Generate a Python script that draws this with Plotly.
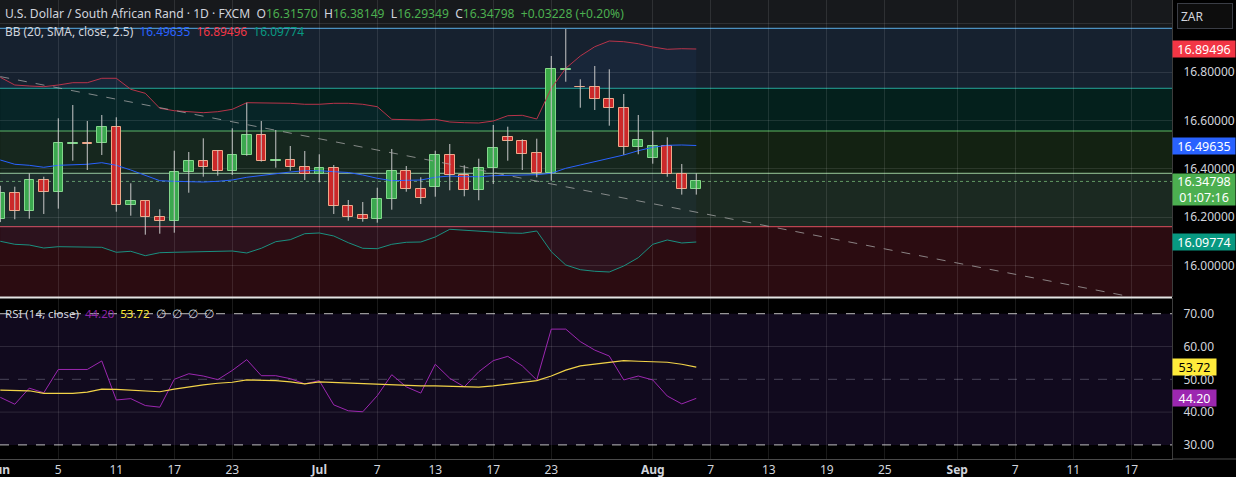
import plotly.graph_objects as go

# ---------------- data ----------------
opens = [16.1916, 16.2990, 16.2271, 16.3527, 16.3031, 16.5045, 16.5085, 16.5055, 16.5716, 16.2519,
         16.2659, 16.1998, 16.1833, 16.3857, 16.4324, 16.4724, 16.3898, 16.4559, 16.5385, 16.4340,
         16.4365, 16.4088, 16.3774, 16.4022, 16.2465, 16.2093, 16.1916, 16.2742, 16.3911, 16.3155,
         16.3262, 16.4559, 16.3733, 16.3114, 16.4022, 16.5303, 16.5150, 16.4642, 16.3841, 16.8090,
         16.7400, 16.7368, 16.6872, 16.6501, 16.4890, 16.4435, 16.4931, 16.3774, 16.31570]
highs = [16.3300, 16.3262, 16.3816, 16.3675, 16.6088, 16.6637, 16.5976, 16.6224, 16.6129, 16.3403,
         16.2680, 16.2329, 16.4749, 16.4696, 16.5261, 16.4778, 16.5675, 16.6732, 16.5976, 16.5604,
         16.4943, 16.4737, 16.4601, 16.4159, 16.2713, 16.2630, 16.3221, 16.4820, 16.4117, 16.3651,
         16.4749, 16.5026, 16.4146, 16.4419, 16.5811, 16.5741, 16.5220, 16.5245, 16.8661, 16.9776,
         16.7698, 16.8248, 16.8112, 16.7091, 16.6224, 16.5563, 16.5303, 16.4200, 16.38149]
lows = [16.1800, 16.1916, 16.1941, 16.2135, 16.2354, 16.4336, 16.3952, 16.4572, 16.2230, 16.2064,
        16.1280, 16.1321, 16.1362, 16.3014, 16.3675, 16.3717, 16.3746, 16.4540, 16.4300, 16.4047,
        16.3923, 16.3539, 16.3444, 16.2135, 16.1858, 16.1817, 16.1775, 16.2312, 16.3056, 16.2548,
        16.2849, 16.3114, 16.2866, 16.2701, 16.3374, 16.4336, 16.3952, 16.3651, 16.3510, 16.7599,
        16.6525, 16.6430, 16.5782, 16.4584, 16.4601, 16.4212, 16.3675, 16.2935, 16.29349]
closes = [16.2990, 16.2271, 16.3539, 16.3031, 16.5055, 16.5085, 16.5045, 16.5716, 16.2519, 16.2659,
          16.1998, 16.1833, 16.3857, 16.4324, 16.4088, 16.3898, 16.4559, 16.5385, 16.4311, 16.4380,
          16.4088, 16.3774, 16.4022, 16.2465, 16.1998, 16.1916, 16.2754, 16.3911, 16.3155, 16.2796,
          16.4559, 16.3733, 16.3114, 16.4022, 16.4848, 16.5150, 16.4625, 16.3841, 16.8112, 16.8130,
          16.7360, 16.6872, 16.6501, 16.4890, 16.5179, 16.4931, 16.3774, 16.3155, 16.34798]

bb_upper = [16.7781, 16.7463, 16.7422, 16.7393, 16.7463, 16.7558, 16.7558, 16.7740, 16.7740, 16.7285,
            16.7120, 16.6501, 16.6401, 16.6360, 16.6319, 16.6360, 16.6459, 16.6732, 16.6732, 16.6732,
            16.6707, 16.6666, 16.6666, 16.6707, 16.6707, 16.6666, 16.6567, 16.6046, 16.6017, 16.6017,
            16.6046, 16.5935, 16.5906, 16.5893, 16.5976, 16.6195, 16.6211, 16.6059, 16.7327, 16.8153,
            16.8661, 16.9045, 16.9280, 16.9252, 16.9169, 16.9033, 16.8938, 16.8962, 16.89496]
bb_mid = [16.4365, 16.4188, 16.4146, 16.4064, 16.4146, 16.4171, 16.4188, 16.4254, 16.4146, 16.3952,
          16.3733, 16.3510, 16.3485, 16.3456, 16.3456, 16.3485, 16.3539, 16.3651, 16.3733, 16.3816,
          16.3869, 16.3923, 16.3923, 16.3882, 16.3849, 16.3746, 16.3609, 16.3510, 16.3510, 16.3539,
          16.3651, 16.3704, 16.3675, 16.3675, 16.3717, 16.3733, 16.3746, 16.3758, 16.3816, 16.4022,
          16.4159, 16.4295, 16.4435, 16.4572, 16.4749, 16.4890, 16.4972, 16.4985, 16.49635]
bb_lower = [16.1007, 16.0883, 16.0854, 16.0730, 16.0784, 16.0772, 16.0772, 16.0759, 16.0553, 16.0594,
            16.0412, 16.0536, 16.0553, 16.0565, 16.0577, 16.0619, 16.0606, 16.0524, 16.0718, 16.0991,
            16.1073, 16.1321, 16.1350, 16.1226, 16.0949, 16.0718, 16.0701, 16.0883, 16.0966, 16.0978,
            16.1185, 16.1503, 16.1461, 16.1445, 16.1404, 16.1350, 16.1337, 16.1432, 16.0577, 16.0028,
            15.9834, 15.9768, 15.9739, 15.9987, 16.0330, 16.0883, 16.1061, 16.0937, 16.09774]

rsi = [44.5, 42.4, 47.3, 45.9, 53.0, 53.0, 53.0, 55.6, 43.7, 44.1,
       42.0, 41.5, 50.0, 51.7, 51.0, 49.9, 52.7, 56.0, 51.1, 51.1,
       50.2, 48.6, 49.6, 42.2, 40.4, 40.1, 45.0, 51.4, 47.7, 45.8,
       54.6, 50.3, 47.7, 52.3, 55.7, 57.0, 54.1, 49.8, 65.3, 65.3,
       61.5, 58.9, 57.1, 49.8, 51.0, 49.8, 44.9, 42.5, 44.20]
rsi_ma = [46.7, 46.7, 46.5, 45.7, 45.7, 45.7, 46.1, 47.0, 46.9, 46.7,
          46.4, 46.2, 47.0, 47.7, 48.3, 48.8, 49.1, 49.8, 49.7, 49.6,
          49.2, 48.6, 49.2, 49.0, 48.9, 48.8, 48.5, 48.4, 48.1, 48.0,
          48.0, 47.8, 47.6, 47.6, 48.0, 48.5, 48.9, 49.6, 51.0, 52.8,
          54.1, 54.6, 55.3, 55.7, 55.5, 55.4, 55.2, 54.6, 53.72]

tick_idx = [0, 4, 8, 12, 16, 22, 26, 30, 34, 38, 45, 49, 53, 57, 61, 66, 70, 74, 78]
tick_text = ["Jun", "5", "11", "17", "23", "Jul", "7", "13", "17", "23",
             "Aug", "7", "13", "19", "25", "Sep", "7", "11", "17"]
month_ticks = ["Jun", "Jul", "Aug", "Sep"]

fib_levels = [16.9805, 16.7327, 16.5563, 16.3816, 16.1610]
trend_x = [0, 78]
trend_y = [16.781, 15.871]
price_ticks = [16.0, 16.2, 16.4, 16.6, 16.8, 17.0]
rsi_ticks = [30, 40, 50, 60, 70]
rsi_bands = [30, 50, 70]
change_abs = 0.03228
change_pct = 0.20
countdown = "01:07:16"

# ---------------- style ----------------
W, H = 1236, 477
ML, MR, MT, MB = 0, 64, 0, 18
PW = W - ML - MR
PH = H - MT - MB
FONT = "Noto Sans"
TXT = "#d1d4dc"
GREEN_TXT = "#4caf50"
UP_FILL, UP_LINE = "#3aaa46", "#86dc86"
DN_FILL, DN_LINE = "#d2231e", "#f8aa84"
WICK = "#c8c8c8"
X_RANGE = [-0.02, 80.81]
Y_RANGE = [15.8706, 17.0974]
R_RANGE = [25.70, 74.79]
band_fills = ["#16212f", "#04201c", "#132212", "#1b2921"]
fib_line_colors = ["#5aaee8", "#26a69a", "#5cb860", "#9ccc9c", "#e0505f"]
TOP_BG = "#17191c"
LOW_BG = "#2b0c11"


def px_x(px):
    return px / PW


def px_y(py):
    return (PH - py) / PH


n = len(closes)
idx = list(range(n))

fig = go.Figure()

# Bollinger bands
fig.add_trace(go.Scatter(x=idx, y=bb_upper, mode="lines", line=dict(color="#b8344a", width=1),
                         hoverinfo="skip"))
fig.add_trace(go.Scatter(x=idx, y=bb_lower, mode="lines", line=dict(color="#1a9080", width=1),
                         fill="tonexty", fillcolor="rgba(70,130,255,0.05)", hoverinfo="skip"))
fig.add_trace(go.Scatter(x=idx, y=bb_mid, mode="lines", line=dict(color="#2962ff", width=1),
                         hoverinfo="skip"))

# candle wicks
wx, wy = [], []
for i in idx:
    wx += [i, i, None]
    wy += [lows[i], highs[i], None]
fig.add_trace(go.Scatter(x=wx, y=wy, mode="lines", line=dict(color=WICK, width=1), hoverinfo="skip"))

# candle bodies
is_up = [closes[i] >= opens[i] for i in idx]
fig.add_trace(go.Bar(
    x=idx,
    base=[min(opens[i], closes[i]) for i in idx],
    y=[abs(closes[i] - opens[i]) for i in idx],
    width=0.66,
    marker=dict(color=[UP_FILL if u else DN_FILL for u in is_up],
                line=dict(color=[UP_LINE if u else DN_LINE for u in is_up], width=1)),
    hoverinfo="skip",
))

# RSI
fig.add_trace(go.Scatter(x=idx, y=rsi, yaxis="y2", mode="lines",
                         line=dict(color="#9c27b0", width=1), hoverinfo="skip"))
fig.add_trace(go.Scatter(x=idx, y=rsi_ma, yaxis="y2", mode="lines",
                         line=dict(color="#f2d348", width=1.2), hoverinfo="skip"))

shapes = []
# price-pane background bands
shapes.append(dict(type="rect", xref="paper", yref="y", x0=0, x1=1, y0=fib_levels[0], y1=Y_RANGE[1],
                   fillcolor=TOP_BG, line_width=0, layer="below"))
for k in range(len(fib_levels) - 1):
    shapes.append(dict(type="rect", xref="paper", yref="y", x0=0, x1=1,
                       y0=fib_levels[k + 1], y1=fib_levels[k],
                       fillcolor=band_fills[k], line_width=0, layer="below"))
shapes.append(dict(type="rect", xref="paper", yref="y", x0=0, x1=1, y0=Y_RANGE[0], y1=fib_levels[-1],
                   fillcolor=LOW_BG, line_width=0, layer="below"))
for k, lv in enumerate(fib_levels):
    shapes.append(dict(type="line", xref="paper", yref="y", x0=0, x1=1, y0=lv, y1=lv,
                       line=dict(color=fib_line_colors[k], width=1), layer="below"))
# last price dotted line
shapes.append(dict(type="line", xref="paper", yref="y", x0=0, x1=1, y0=closes[-1], y1=closes[-1],
                   line=dict(color="rgba(120,190,120,0.75)", width=1, dash="dot"), layer="below"))
# trend line
shapes.append(dict(type="line", xref="x", yref="y", x0=trend_x[0], y0=trend_y[0], x1=trend_x[1],
                   y1=trend_y[1], line=dict(color="rgba(170,170,170,0.75)", width=1, dash="dash")))
# RSI band
shapes.append(dict(type="rect", xref="paper", yref="y2", x0=0, x1=1, y0=rsi_bands[0], y1=rsi_bands[2],
                   fillcolor="#110a1e", line_width=0, layer="below"))
for v in [40, 60]:
    shapes.append(dict(type="line", xref="paper", yref="y2", x0=0, x1=1, y0=v, y1=v,
                       line=dict(color="rgba(255,255,255,0.12)", width=1), layer="below"))
for v in rsi_bands:
    col = "rgba(210,210,210,0.9)" if v != 50 else "rgba(180,180,200,0.35)"
    shapes.append(dict(type="line", xref="paper", yref="y2", x0=0, x1=1, y0=v, y1=v,
                       line=dict(color=col, width=1, dash="dash"), layer="below"))
# pane separator
shapes.append(dict(type="line", xref="paper", yref="paper", x0=0, x1=1, y0=px_y(297.5), y1=px_y(297.5),
                   line=dict(color="#e4e4e4", width=2)))
# bottom axis line extension under the price scale
shapes.append(dict(type="line", xref="paper", yref="paper", x0=1, x1=W / PW, y0=0, y1=0,
                   line=dict(color="#4a4a4a", width=1)))

ann = []
g = lambda s: f'<span style="color:{GREEN_TXT}">{s}</span>'
line1 = ("U.S. Dollar / South African Rand · 1D · FXCM &nbsp;"
         f"O{g(f'{opens[-1]:.5f}')} &nbsp;H{g(f'{highs[-1]:.5f}')} &nbsp;"
         f"L{g(f'{lows[-1]:.5f}')} &nbsp;C{g(f'{closes[-1]:.5f}')} &nbsp;"
         f"{g(f'+{change_abs:.5f} (+{change_pct:.2f}%)')}")
line2 = ("BB (20, SMA, close, 2.5) &nbsp;"
         f'<span style="color:#2962ff">{bb_mid[-1]:.5f}</span> &nbsp;'
         f'<span style="color:#f23645">{bb_upper[-1]:.5f}</span> &nbsp;'
         f'<span style="color:#089981">{bb_lower[-1]:.5f}</span>')
line3 = ("RSI (14, close) &nbsp;"
         f'<span style="color:#8e24aa">{rsi[-1]:.2f}</span> &nbsp;'
         f'<span style="color:#ffeb3b">{rsi_ma[-1]:.2f}</span> &nbsp;∅ &nbsp;∅ &nbsp;∅ &nbsp;∅')
for txt, py, sz in [(line1, 13, 12.1), (line2, 31, 11.9), (line3, 313, 11.5)]:
    ann.append(dict(xref="paper", yref="paper", x=px_x(3), y=px_y(py), xanchor="left", yanchor="middle",
                    text=txt, showarrow=False, font=dict(family=FONT, size=sz, color=TXT)))

# price scale badges
def badge(val, yref, bg, fg, text, width=60, height=14):
    return dict(xref="paper", yref=yref, x=1.0, y=val, xanchor="left", yanchor="middle",
                text=text, showarrow=False, bgcolor=bg, borderpad=1, width=width, height=height,
                align="center", valign="middle",
                font=dict(family=FONT, size=12.5, color=fg))

ann.append(badge(bb_upper[-1], "y", "#f23645", "#ffffff", f"{bb_upper[-1]:.5f}"))
ann.append(badge(bb_mid[-1], "y", "#2962ff", "#ffffff", f"{bb_mid[-1]:.5f}"))
ann.append(badge(bb_lower[-1], "y", "#089981", "#ffffff", f"{bb_lower[-1]:.5f}"))
last = badge(closes[-1], "y", "#4caf50", "#ffffff", f"{closes[-1]:.5f}<br>{countdown}", height=29)
last.update(yanchor="top", yshift=8.7)
ann.append(last)
ann.append(badge(rsi_ma[-1], "y2", "#ffeb3b", "#000000", f"{rsi_ma[-1]:.2f}", width=41))
ann.append(badge(rsi[-1], "y2", "#9c27b0", "#ffffff", f"{rsi[-1]:.2f}", width=41))
# currency box
ann.append(dict(xref="paper", yref="paper", x=px_x(1177), y=px_y(16), xanchor="left", yanchor="middle",
                text="ZAR", showarrow=False, bgcolor="#0d0d0d", bordercolor="#3a3d45", borderwidth=1,
                borderpad=3, width=48, height=18, align="left",
                font=dict(family=FONT, size=12, color=TXT)))

fig.update_layout(
    width=W, height=H,
    margin=dict(l=ML, r=MR, t=MT, b=MB, autoexpand=False),
    paper_bgcolor="#000000", plot_bgcolor="#000000",
    showlegend=False, hovermode=False, bargap=0,
    font=dict(family=FONT, color=TXT, size=12),
    shapes=shapes, annotations=ann,
    xaxis=dict(domain=[0, 1], range=X_RANGE, anchor="y2", tickmode="array", tickvals=tick_idx,
               ticktext=[f"<b>{t}</b>" if t in month_ticks else t for t in tick_text],
               showgrid=True, gridcolor="rgba(255,255,255,0.10)", gridwidth=1, zeroline=False,
               showline=True, linecolor="#4a4a4a", ticks="", ticklabeloverflow="allow",
               automargin=False, tickfont=dict(family=FONT, size=12, color=TXT)),
    yaxis=dict(domain=[px_y(297), 1], range=Y_RANGE, side="right", anchor="x", tickmode="array",
               tickvals=price_ticks, ticktext=[f"{v:.5f}" if v < 16.9 else "" for v in price_ticks],
               showgrid=True, gridcolor="rgba(255,255,255,0.10)", zeroline=False, automargin=False,
               showline=True, linecolor="#3c3c3c", ticks="", ticklabelstandoff=8,
               tickfont=dict(family=FONT, size=12, color=TXT)),
    yaxis2=dict(domain=[0, px_y(298)], range=R_RANGE, side="right", anchor="x", tickmode="array",
                tickvals=rsi_ticks, ticktext=[f"{v:.2f}" for v in rsi_ticks], automargin=False,
                showgrid=False, zeroline=False, showline=True, linecolor="#3c3c3c", ticks="",
                ticklabelstandoff=8, tickfont=dict(family=FONT, size=12, color=TXT)),
)

fig.write_html("out.html", config={"displayModeBar": False},
               post_script="document.body.style.margin='0';")
